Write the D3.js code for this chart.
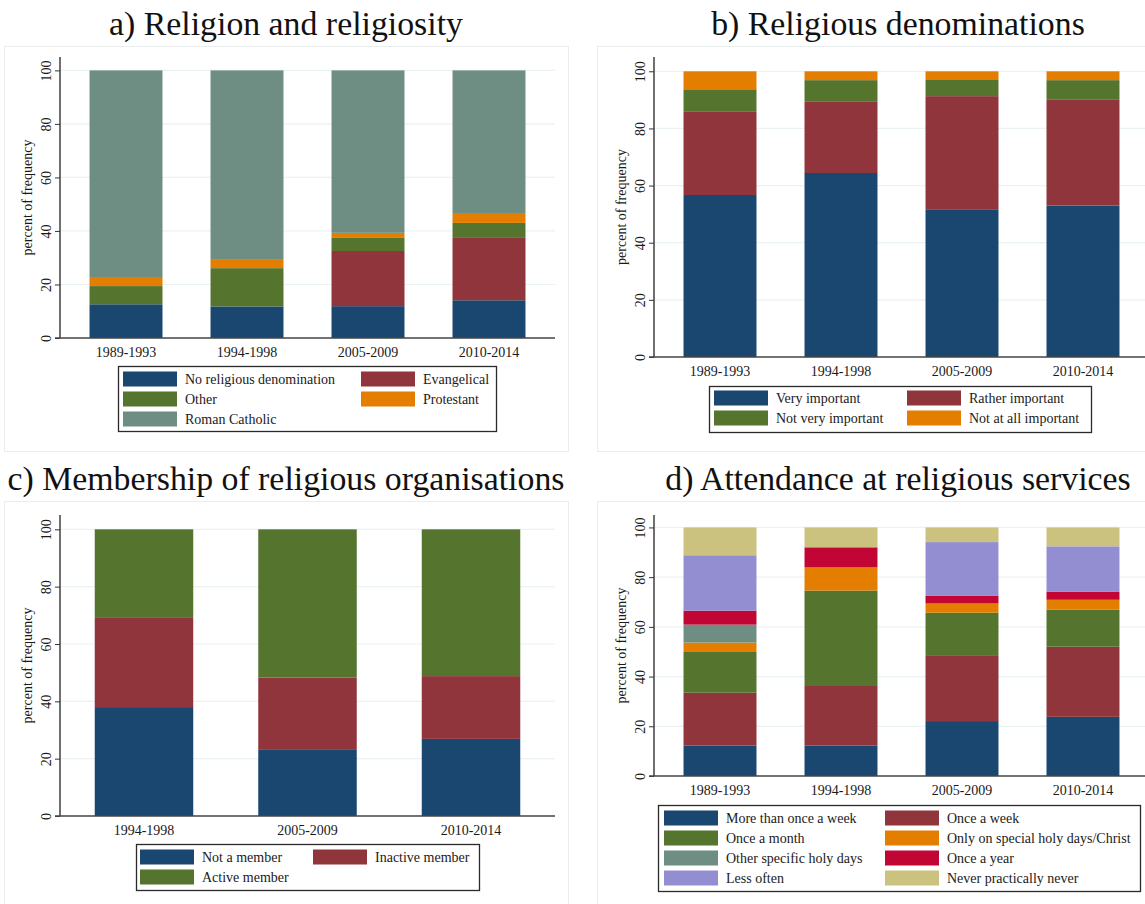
<!DOCTYPE html>
<html>
<head>
<meta charset="utf-8">
<script src="https://cdn.jsdelivr.net/npm/d3@7"></script>
<style>
  html, body { margin: 0; padding: 0; background: #fff; }
  svg { display: block; }
  text { font-family: "Liberation Serif", "Times New Roman", serif; fill: #1a1a1a; }
  .title { font-size: 33.8px; fill: #111; }
</style>
</head>
<body>
<svg id="chart" width="1145" height="904"></svg>
<script>
// ---- shared categories and ticks ----
const periods4 = ["1989-1993", "1994-1998", "2005-2009", "2010-2014"];
const periods3 = ["1994-1998", "2005-2009", "2010-2014"];
const yTicks = [0, 20, 40, 60, 80, 100];
const yAxisTitle = "percent of frequency";

// ---- a) Religion and religiosity (percent per period) ----
const denomSeries = ["No religious denomination", "Evangelical", "Other", "Protestant", "Roman Catholic"];
const noReligious   = [12.6, 11.8, 11.9, 14.1];
const evangelical   = [0.0, 0.0, 20.6, 23.3];
const otherDenom    = [6.8, 14.3, 4.9, 5.6];
const protestant    = [3.4, 3.4, 1.9, 3.7];
const romanCatholic = [77.2, 70.5, 60.7, 53.3];

// ---- b) Religious denominations: importance of religion ----
const importanceSeries = ["Very important", "Rather important", "Not very important", "Not at all important"];
const veryImportant     = [56.7, 64.4, 51.5, 53.0];
const ratherImportant   = [29.1, 24.9, 39.8, 37.2];
const notVeryImportant  = [7.9, 7.6, 5.9, 6.7];
const notAtAllImportant = [6.3, 3.1, 2.8, 3.1];

// ---- c) Membership of religious organisations ----
const memberSeries = ["Not a member", "Inactive member", "Active member"];
const notMember      = [38.0, 23.3, 26.9];
const inactiveMember = [31.1, 25.0, 21.9];
const activeMember   = [30.9, 51.7, 51.2];

// ---- d) Attendance at religious services ----
const attendSeries = ["More than once a week", "Once a week", "Once a month", "Only on special holy days/Christ",
                      "Other specific holy days", "Once a year", "Less often", "Never practically never"];
const moreThanWeekly  = [12.3, 12.3, 22.1, 23.8];
const onceWeek        = [21.2, 23.9, 26.2, 28.2];
const onceMonth       = [16.4, 38.4, 17.4, 14.9];
const specialHolyDays = [3.8, 9.3, 3.7, 4.0];
const otherHolyDays   = [7.2, 0.0, 0.0, 0.0];
const onceYear        = [5.6, 8.1, 3.2, 3.3];
const lessOften       = [22.3, 0.0, 21.5, 18.2];
const neverAttend     = [11.2, 8.0, 5.9, 7.6];

// Stata s2color palette
const navy = "#1a476f", maroon = "#90353b", forest = "#55752f", dkorange = "#e37e00",
      teal = "#6e8e84", cranberry = "#c10534", lavender = "#938dd2", khaki = "#cac27e";

const svg = d3.select("#chart");

function buildRows(cats, names, cols) {
  return cats.map((c, i) => {
    const r = { cat: c };
    names.forEach((n, j) => { r[n] = cols[j][i]; });
    return r;
  });
}

function drawPanel(p) {
  const g = svg.append("g");

  // outer frame of the sub-graph
  g.append("rect")
    .attr("x", p.frame[0] + 0.5).attr("y", p.frame[1] + 0.5)
    .attr("width", p.frame[2]).attr("height", p.frame[3])
    .attr("fill", "none").attr("stroke", "#e9eded").attr("stroke-width", 1);

  // panel title
  g.append("text").attr("class", "title")
    .attr("x", p.titlePos[0]).attr("y", p.titlePos[1])
    .attr("text-anchor", "middle").text(p.title);

  const x = d3.scaleBand().domain(p.cats).range(p.xRange)
    .paddingInner(p.padIn).paddingOuter(p.padOut);
  const y = d3.scaleLinear().domain([0, 105]).range(p.yRange);

  // grid lines
  g.append("g").selectAll("line").data(yTicks.filter(t => t > 0)).join("line")
    .attr("x1", p.xRange[0]).attr("x2", p.xRange[1])
    .attr("y1", d => y(d)).attr("y2", d => y(d))
    .attr("stroke", "#eaf2f3").attr("stroke-width", 1.2);

  // stacked bars
  const rows = buildRows(p.cats, p.series, p.values);
  const stacked = d3.stack().keys(p.series)(rows);
  const color = d3.scaleOrdinal().domain(p.series).range(p.colors);
  g.append("g").selectAll("g").data(stacked).join("g")
    .attr("fill", d => color(d.key))
    .selectAll("rect").data(d => d).join("rect")
    .attr("x", d => x(d.data.cat))
    .attr("width", x.bandwidth())
    .attr("y", d => y(d[1]))
    .attr("height", d => Math.max(0, y(d[0]) - y(d[1])));

  // y axis
  const yAxis = d3.axisLeft(y).tickValues(yTicks).tickSize(5).tickPadding(3);
  const ya = g.append("g").attr("transform", `translate(${p.xRange[0]},0)`).call(yAxis);
  ya.select(".domain").attr("stroke", "#222").attr("stroke-width", 1.3)
    .attr("d", `M0,${p.yRange[0]}V${p.yRange[1]}`);
  ya.selectAll(".tick line").attr("stroke", "#333").attr("stroke-width", 1);
  ya.selectAll(".tick text")
    .attr("font-size", 14).attr("fill", "#1a1a1a")
    .attr("transform", "rotate(-90)")
    .attr("x", 0).attr("y", -9).attr("dy", 0)
    .attr("text-anchor", "middle");

  // x axis
  const xAxis = d3.axisBottom(x).tickSize(0).tickPadding(9);
  const xa = g.append("g").attr("transform", `translate(0,${p.yRange[0]})`).call(xAxis);
  xa.select(".domain").attr("stroke", "#444").attr("stroke-width", 1.3)
    .attr("d", `M${p.xRange[0] - 5},0H${p.xRange[1]}`);
  xa.selectAll(".tick text").attr("font-size", 14).attr("fill", "#1a1a1a");

  // y axis title
  g.append("text")
    .attr("transform", `translate(${p.xRange[0] - 28},${(p.yRange[0] + p.yRange[1]) / 2}) rotate(-90)`)
    .attr("text-anchor", "middle").attr("font-size", 14).text(yAxisTitle);

  // legend
  const L = p.legend;
  g.append("rect").attr("x", L.box[0] + 0.5).attr("y", L.box[1] + 0.5)
    .attr("width", L.box[2]).attr("height", L.box[3])
    .attr("fill", "#fff").attr("stroke", "#2a2a2a").attr("stroke-width", 1.3);
  const items = g.append("g").selectAll("g").data(p.series).join("g")
    .attr("transform", (d, i) => `translate(${L.cols[i % 2]},${L.row0 + Math.floor(i / 2) * L.rowStep})`);
  items.append("rect").attr("x", 0).attr("y", -7.5).attr("width", 54).attr("height", 15)
    .attr("fill", d => color(d));
  items.append("text").attr("x", 62).attr("y", 5).attr("font-size", 14).text(d => d);
}

drawPanel({
  title: "a) Religion and religiosity", titlePos: [286, 35],
  frame: [4, 46, 564, 405],
  cats: periods4, xRange: [60, 555], padIn: 0.397, padOut: 0.244, yRange: [338, 57],
  series: denomSeries,
  values: [noReligious, evangelical, otherDenom, protestant, romanCatholic],
  colors: [navy, maroon, forest, dkorange, teal],
  legend: { box: [118, 366, 378, 65], cols: [123, 361], row0: 379, rowStep: 20 }
});

drawPanel({
  title: "b) Religious denominations", titlePos: [898, 35],
  frame: [597, 46, 600, 405],
  cats: periods4, xRange: [654, 1149], padIn: 0.397, padOut: 0.244, yRange: [357, 57],
  series: importanceSeries,
  values: [veryImportant, ratherImportant, notVeryImportant, notAtAllImportant],
  colors: [navy, maroon, forest, dkorange],
  legend: { box: [709, 386, 382, 46], cols: [714, 907], row0: 398, rowStep: 20 }
});

drawPanel({
  title: "c) Membership of religious organisations", titlePos: [286, 490],
  frame: [4, 501, 564, 420],
  cats: periods3, xRange: [60, 555], padIn: 0.3976, padOut: 0.2125, yRange: [816, 515],
  series: memberSeries,
  values: [notMember, inactiveMember, activeMember],
  colors: [navy, maroon, forest],
  legend: { box: [136, 844, 343, 46], cols: [140, 313], row0: 857, rowStep: 20 }
});

drawPanel({
  title: "d) Attendance at religious services", titlePos: [898, 490],
  frame: [597, 501, 600, 420],
  cats: periods4, xRange: [654, 1149], padIn: 0.397, padOut: 0.244, yRange: [776, 515],
  series: attendSeries,
  values: [moreThanWeekly, onceWeek, onceMonth, specialHolyDays, otherHolyDays, onceYear, lessOften, neverAttend],
  colors: [navy, maroon, forest, dkorange, teal, cranberry, lavender, khaki],
  legend: { box: [658, 805, 482, 86], cols: [664, 885], row0: 818, rowStep: 20 }
});
</script>
</body>
</html>
